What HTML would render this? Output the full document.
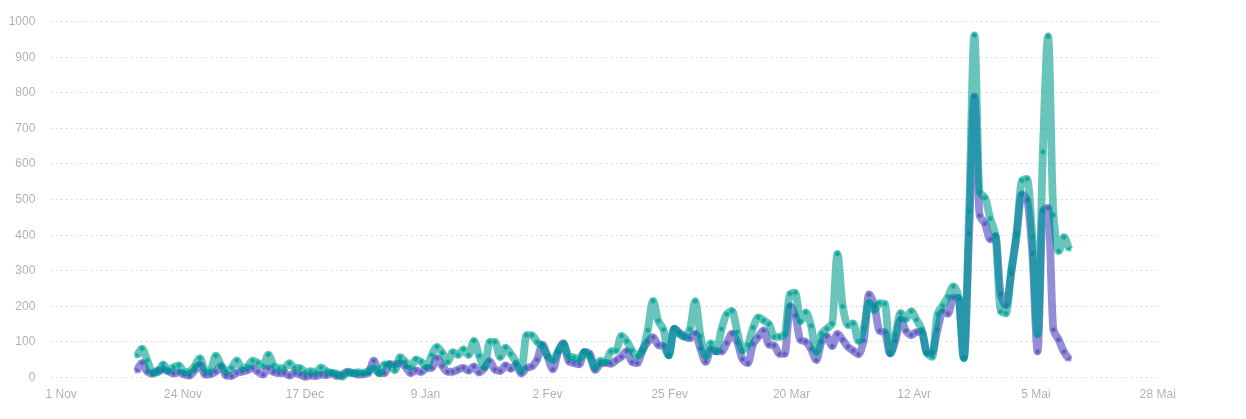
<!DOCTYPE html>
<html lang="fr">
<head>
<meta charset="utf-8">
<title>Graphique</title>
<style>
html,body{margin:0;padding:0;background:#fff;}
body{width:1246px;height:419px;overflow:hidden;font-family:"Liberation Sans",Arial,Helvetica,sans-serif;}
svg{display:block;}
.grid line{stroke:rgba(0,0,0,0.14);stroke-width:1;stroke-dasharray:2 3;shape-rendering:auto;}
.lbl text{font-family:"Liberation Sans",Arial,Helvetica,sans-serif;font-size:12px;fill:rgba(0,0,0,0.32);}
.ylbl text{text-anchor:end;}
.xlbl text{text-anchor:middle;}
.line{fill:none;stroke-width:7.8;stroke-linejoin:round;stroke-linecap:butt;stroke-opacity:0.6;}
.pt{fill:none;stroke-width:5.6;stroke-linecap:round;stroke-opacity:0.3;}
.pt2{fill:none;stroke-width:3.6;stroke-linecap:round;stroke-opacity:0.55;}
.a{stroke:rgb(75,67,187);} .b{stroke:rgb(5,157,142);}
</style>
</head>
<body>
<svg width="1246" height="419" viewBox="0 0 1246 419">
<defs><filter id="gm" x="0" y="0" width="1246" height="419" filterUnits="userSpaceOnUse" color-interpolation-filters="sRGB"><feComponentTransfer><feFuncR type="table" tableValues="0 0.03 0.10 0.24 0.4 0.5 0.6 0.7 0.8 0.9 1"/></feComponentTransfer></filter></defs>
<g filter="url(#gm)"><rect x="0" y="0" width="1246" height="419" fill="#fff"/>
<g class="grid"><line x1="50.6" x2="1158.4" y1="377.50" y2="377.50"/><line x1="50.6" x2="1158.4" y1="341.50" y2="341.50"/><line x1="50.6" x2="1158.4" y1="306.50" y2="306.50"/><line x1="50.6" x2="1158.4" y1="270.50" y2="270.50"/><line x1="50.6" x2="1158.4" y1="235.50" y2="235.50"/><line x1="50.6" x2="1158.4" y1="199.50" y2="199.50"/><line x1="50.6" x2="1158.4" y1="163.50" y2="163.50"/><line x1="50.6" x2="1158.4" y1="128.50" y2="128.50"/><line x1="50.6" x2="1158.4" y1="92.50" y2="92.50"/><line x1="50.6" x2="1158.4" y1="57.50" y2="57.50"/><line x1="50.6" x2="1158.4" y1="21.50" y2="21.50"/></g>
<g class="lbl ylbl"><text x="35.4" y="380.90">0</text><text x="35.4" y="344.90">100</text><text x="35.4" y="309.90">200</text><text x="35.4" y="273.90">300</text><text x="35.4" y="238.90">400</text><text x="35.4" y="202.90">500</text><text x="35.4" y="166.90">600</text><text x="35.4" y="131.90">700</text><text x="35.4" y="95.90">800</text><text x="35.4" y="60.90">900</text><text x="35.4" y="24.90">1000</text></g>
<g class="lbl xlbl"><text x="61.20" y="397.90">1 Nov</text><text x="183.04" y="397.90">24 Nov</text><text x="304.89" y="397.90">17 Dec</text><text x="425.43" y="397.90">9 Jan</text><text x="547.58" y="397.90">2 Fev</text><text x="669.72" y="397.90">25 Fev</text><text x="791.57" y="397.90">20 Mar</text><text x="914.11" y="397.90">12 Avr</text><text x="1035.96" y="397.90">5 Mai</text><text x="1157.80" y="397.90">28 Mai</text></g>
<g class="series a"><path class="line a" d="M136.70,371.04C138.46,368.31 140.21,362.85 141.97,362.85C143.72,362.85 145.48,370.61 147.24,371.75C148.99,372.90 150.75,373.89 152.51,373.89C154.26,373.89 156.02,370.73 157.77,370.33C159.53,369.93 161.29,369.62 163.04,369.62C164.80,369.62 166.55,370.75 168.31,371.40C170.07,372.05 171.82,373.53 173.58,373.53C175.34,373.53 177.09,372.47 178.85,372.47C180.60,372.47 182.36,374.13 184.12,374.60C185.87,375.08 187.63,375.67 189.38,375.67C191.14,375.67 192.90,372.17 194.65,370.33C196.41,368.49 198.17,364.63 199.92,364.63C201.68,364.63 203.43,374.60 205.19,374.60C206.95,374.60 208.70,374.45 210.46,374.25C212.22,374.04 213.97,372.86 215.73,371.75C217.48,370.65 219.24,366.77 221.00,366.77C222.75,366.77 224.51,375.44 226.26,375.67C228.02,375.90 229.78,376.03 231.53,376.03C233.29,376.03 235.05,373.36 236.80,372.82C238.56,372.29 240.31,372.16 242.07,371.75C243.83,371.35 245.58,370.90 247.34,370.33C249.09,369.76 250.85,368.19 252.61,368.19C254.36,368.19 256.12,370.70 257.88,371.75C259.63,372.81 261.39,374.60 263.14,374.60C264.90,374.60 266.66,368.19 268.41,368.19C270.17,368.19 271.92,371.55 273.68,372.11C275.44,372.67 277.19,373.18 278.95,373.18C280.71,373.18 282.46,373.18 284.22,373.18C285.97,373.18 287.73,375.67 289.49,375.67C291.24,375.67 293.00,373.18 294.75,373.18C296.51,373.18 298.27,374.03 300.02,374.60C301.78,375.17 303.54,376.74 305.29,376.74C307.05,376.74 308.80,375.67 310.56,375.67C312.32,375.67 314.07,376.03 315.83,376.03C317.59,376.03 319.34,374.60 321.10,374.60C322.85,374.60 324.61,375.31 326.37,375.31C328.12,375.31 329.88,373.18 331.63,373.18C333.39,373.18 335.15,376.03 336.90,376.03C338.66,376.03 340.42,375.23 342.17,374.60C343.93,373.97 345.68,371.75 347.44,371.75C349.20,371.75 350.95,372.38 352.71,372.82C354.46,373.27 356.22,374.60 357.98,374.60C359.73,374.60 361.49,374.42 363.25,374.25C365.00,374.07 366.76,373.83 368.51,373.18C370.27,372.52 372.03,360.72 373.78,360.72C375.54,360.72 377.29,372.59 379.05,372.82C380.81,373.05 382.56,373.18 384.32,373.18C386.08,373.18 387.83,363.92 389.59,363.92C391.34,363.92 393.10,364.63 394.86,364.63C396.61,364.63 398.37,362.85 400.12,362.85C401.88,362.85 403.64,365.15 405.39,366.77C407.15,368.39 408.91,373.18 410.66,373.18C412.42,373.18 414.17,370.33 415.93,370.33C417.69,370.33 419.44,372.11 421.20,372.11C422.96,372.11 424.71,368.41 426.47,368.19C428.22,367.98 429.98,368.07 431.74,367.84C433.49,367.61 435.25,358.23 437.00,358.23C438.76,358.23 440.52,363.86 442.27,366.06C444.03,368.26 445.79,371.75 447.54,371.75C449.30,371.75 451.05,371.75 452.81,371.75C454.57,371.75 456.32,370.27 458.08,369.62C459.83,368.97 461.59,367.84 463.35,367.84C465.10,367.84 466.86,370.69 468.62,370.69C470.37,370.69 472.13,366.41 473.88,366.41C475.64,366.41 477.40,372.47 479.15,372.47C480.91,372.47 482.66,369.97 484.42,368.19C486.18,366.41 487.93,361.07 489.69,361.07C491.45,361.07 493.20,368.80 494.96,369.62C496.71,370.43 498.47,371.04 500.23,371.04C501.98,371.04 503.74,365.35 505.50,365.35C507.25,365.35 509.01,368.91 510.76,368.91C512.52,368.91 514.28,364.63 516.03,364.63C517.79,364.63 519.54,373.53 521.30,373.53C523.06,373.53 524.81,369.08 526.57,368.19C528.33,367.30 530.08,367.35 531.84,366.41C533.59,365.47 535.35,362.75 537.11,359.65C538.86,356.55 540.62,344.70 542.37,344.70C544.13,344.70 545.89,352.71 547.64,356.80C549.40,360.90 551.16,369.26 552.91,369.26C554.67,369.26 556.42,355.64 558.18,351.82C559.94,347.99 561.69,343.27 563.45,343.27C565.20,343.27 566.96,360.35 568.72,361.43C570.47,362.51 572.23,362.76 573.99,363.21C575.74,363.65 577.50,364.28 579.25,364.28C581.01,364.28 582.77,351.82 584.52,351.82C586.28,351.82 588.03,352.53 589.79,353.60C591.55,354.67 593.30,369.97 595.06,369.97C596.82,369.97 598.57,364.53 600.33,363.92C602.08,363.32 603.84,362.85 605.60,362.85C607.35,362.85 609.11,363.92 610.87,363.92C612.62,363.92 614.38,361.55 616.13,360.36C617.89,359.18 619.65,358.26 621.40,356.80C623.16,355.34 624.91,351.11 626.67,351.11C628.43,351.11 630.18,361.49 631.94,362.14C633.70,362.79 635.45,363.21 637.21,363.21C638.96,363.21 640.72,353.81 642.48,350.39C644.23,346.98 645.99,343.85 647.74,341.85C649.50,339.85 651.26,337.22 653.01,337.22C654.77,337.22 656.53,344.43 658.28,345.05C660.04,345.68 661.79,345.48 663.55,346.12C665.31,346.76 667.06,355.38 668.82,355.38C670.57,355.38 672.33,328.68 674.09,328.68C675.84,328.68 677.60,331.29 679.36,332.59C681.11,333.90 682.87,335.69 684.62,336.51C686.38,337.33 688.14,338.29 689.89,338.29C691.65,338.29 693.40,333.66 695.16,333.66C696.92,333.66 698.67,343.95 700.43,348.61C702.19,353.28 703.94,361.79 705.70,361.79C707.45,361.79 709.21,349.33 710.97,349.33C712.72,349.33 714.48,351.46 716.24,351.46C717.99,351.46 719.75,351.46 721.50,351.46C723.26,351.46 725.02,345.88 726.77,342.92C728.53,339.96 730.28,333.66 732.04,333.66C733.80,333.66 735.55,338.41 737.31,342.21C739.07,346.00 740.82,357.17 742.58,359.29C744.33,361.42 746.09,363.21 747.85,363.21C749.60,363.21 751.36,347.45 753.11,343.99C754.87,340.52 756.63,339.11 758.38,336.87C760.14,334.62 761.90,330.46 763.65,330.46C765.41,330.46 767.16,344.25 768.92,344.70C770.68,345.15 772.43,344.97 774.19,345.41C775.94,345.85 777.70,353.95 779.46,353.95C781.21,353.95 782.97,353.95 784.73,353.95C786.48,353.95 788.24,306.25 789.99,306.25C791.75,306.25 793.51,311.02 795.26,315.51C797.02,319.99 798.77,338.96 800.53,340.07C802.29,341.18 804.04,340.90 805.80,341.85C807.56,342.80 809.31,346.08 811.07,348.97C812.82,351.86 814.58,360.01 816.34,360.01C818.09,360.01 819.85,344.60 821.61,341.85C823.36,339.10 825.12,336.51 826.87,336.51C828.63,336.51 830.39,346.12 832.14,346.12C833.90,346.12 835.65,334.02 837.41,334.02C839.17,334.02 840.92,337.60 842.68,339.71C844.44,341.82 846.19,345.15 847.95,346.83C849.70,348.52 851.46,349.51 853.22,350.75C854.97,351.99 856.73,354.31 858.48,354.31C860.24,354.31 862.00,347.53 863.75,340.43C865.51,333.32 867.27,294.50 869.02,294.50C870.78,294.50 872.53,300.42 874.29,305.54C876.05,310.66 877.80,329.92 879.56,330.81C881.31,331.71 883.07,331.35 884.83,332.24C886.58,333.13 888.34,353.60 890.10,353.60C891.85,353.60 893.61,346.12 895.36,340.78C897.12,335.44 898.88,319.42 900.63,319.42C902.39,319.42 904.14,328.74 905.90,330.81C907.66,332.89 909.41,335.09 911.17,335.09C912.93,335.09 914.68,332.45 916.44,332.24C918.19,332.03 919.95,331.88 921.71,331.88C923.46,331.88 925.22,352.89 926.98,352.89C928.73,352.89 930.49,352.63 932.24,352.17C934.00,351.71 935.76,336.44 937.51,329.75C939.27,323.06 941.02,311.59 942.78,311.59C944.54,311.59 946.29,313.73 948.05,313.73C949.81,313.73 951.56,297.71 953.32,297.71C955.07,297.71 956.83,297.95 958.59,298.42C960.34,298.89 962.10,357.87 963.85,357.87C965.61,357.87 967.37,277.07 969.12,233.63C970.88,190.18 972.64,96.57 974.39,96.57C976.15,96.57 977.90,210.36 979.66,215.47C981.42,220.58 983.17,220.07 984.93,223.66C986.68,227.24 988.44,239.32 990.20,239.32C991.95,239.32 993.71,236.12 995.47,236.12C997.22,236.12 998.98,287.45 1000.73,293.79C1002.49,300.13 1004.25,305.18 1006.00,305.18C1007.76,305.18 1009.51,285.31 1011.27,273.50C1013.03,261.68 1014.78,246.44 1016.54,233.27C1018.30,220.10 1020.05,194.47 1021.81,194.47C1023.56,194.47 1025.32,196.73 1027.08,200.16C1028.83,203.59 1030.59,230.53 1032.35,253.56C1034.10,276.60 1035.86,351.46 1037.61,351.46C1039.37,351.46 1041.13,212.70 1042.88,210.84C1044.64,208.98 1046.39,207.99 1048.15,207.99C1049.91,207.99 1051.66,323.60 1053.42,329.75C1055.18,335.89 1056.93,336.07 1058.69,339.71C1060.44,343.36 1062.20,348.74 1063.96,351.82C1065.71,354.90 1067.47,356.80 1069.22,359.29"/>
<path class="pt a" d="M136.70,371.04h0.01M141.97,362.85h0.01M147.24,371.75h0.01M152.51,373.89h0.01M157.77,370.33h0.01M163.04,369.62h0.01M168.31,371.40h0.01M173.58,373.53h0.01M178.85,372.47h0.01M184.12,374.60h0.01M189.38,375.67h0.01M194.65,370.33h0.01M199.92,364.63h0.01M205.19,374.60h0.01M210.46,374.25h0.01M215.73,371.75h0.01M221.00,366.77h0.01M226.26,375.67h0.01M231.53,376.03h0.01M236.80,372.82h0.01M242.07,371.75h0.01M247.34,370.33h0.01M252.61,368.19h0.01M257.88,371.75h0.01M263.14,374.60h0.01M268.41,368.19h0.01M273.68,372.11h0.01M278.95,373.18h0.01M284.22,373.18h0.01M289.49,375.67h0.01M294.75,373.18h0.01M300.02,374.60h0.01M305.29,376.74h0.01M310.56,375.67h0.01M315.83,376.03h0.01M321.10,374.60h0.01M326.37,375.31h0.01M331.63,373.18h0.01M336.90,376.03h0.01M342.17,374.60h0.01M347.44,371.75h0.01M352.71,372.82h0.01M357.98,374.60h0.01M363.25,374.25h0.01M368.51,373.18h0.01M373.78,360.72h0.01M379.05,372.82h0.01M384.32,373.18h0.01M389.59,363.92h0.01M394.86,364.63h0.01M400.12,362.85h0.01M405.39,366.77h0.01M410.66,373.18h0.01M415.93,370.33h0.01M421.20,372.11h0.01M426.47,368.19h0.01M431.74,367.84h0.01M437.00,358.23h0.01M442.27,366.06h0.01M447.54,371.75h0.01M452.81,371.75h0.01M458.08,369.62h0.01M463.35,367.84h0.01M468.62,370.69h0.01M473.88,366.41h0.01M479.15,372.47h0.01M484.42,368.19h0.01M489.69,361.07h0.01M494.96,369.62h0.01M500.23,371.04h0.01M505.50,365.35h0.01M510.76,368.91h0.01M516.03,364.63h0.01M521.30,373.53h0.01M526.57,368.19h0.01M531.84,366.41h0.01M537.11,359.65h0.01M542.37,344.70h0.01M547.64,356.80h0.01M552.91,369.26h0.01M558.18,351.82h0.01M563.45,343.27h0.01M568.72,361.43h0.01M573.99,363.21h0.01M579.25,364.28h0.01M584.52,351.82h0.01M589.79,353.60h0.01M595.06,369.97h0.01M600.33,363.92h0.01M605.60,362.85h0.01M610.87,363.92h0.01M616.13,360.36h0.01M621.40,356.80h0.01M626.67,351.11h0.01M631.94,362.14h0.01M637.21,363.21h0.01M642.48,350.39h0.01M647.74,341.85h0.01M653.01,337.22h0.01M658.28,345.05h0.01M663.55,346.12h0.01M668.82,355.38h0.01M674.09,328.68h0.01M679.36,332.59h0.01M684.62,336.51h0.01M689.89,338.29h0.01M695.16,333.66h0.01M700.43,348.61h0.01M705.70,361.79h0.01M710.97,349.33h0.01M716.24,351.46h0.01M721.50,351.46h0.01M726.77,342.92h0.01M732.04,333.66h0.01M737.31,342.21h0.01M742.58,359.29h0.01M747.85,363.21h0.01M753.11,343.99h0.01M758.38,336.87h0.01M763.65,330.46h0.01M768.92,344.70h0.01M774.19,345.41h0.01M779.46,353.95h0.01M784.73,353.95h0.01M789.99,306.25h0.01M795.26,315.51h0.01M800.53,340.07h0.01M805.80,341.85h0.01M811.07,348.97h0.01M816.34,360.01h0.01M821.61,341.85h0.01M826.87,336.51h0.01M832.14,346.12h0.01M837.41,334.02h0.01M842.68,339.71h0.01M847.95,346.83h0.01M853.22,350.75h0.01M858.48,354.31h0.01M863.75,340.43h0.01M869.02,294.50h0.01M874.29,305.54h0.01M879.56,330.81h0.01M884.83,332.24h0.01M890.10,353.60h0.01M895.36,340.78h0.01M900.63,319.42h0.01M905.90,330.81h0.01M911.17,335.09h0.01M916.44,332.24h0.01M921.71,331.88h0.01M926.98,352.89h0.01M932.24,352.17h0.01M937.51,329.75h0.01M942.78,311.59h0.01M948.05,313.73h0.01M953.32,297.71h0.01M958.59,298.42h0.01M963.85,357.87h0.01M969.12,233.63h0.01M974.39,96.57h0.01M979.66,215.47h0.01M984.93,223.66h0.01M990.20,239.32h0.01M995.47,236.12h0.01M1000.73,293.79h0.01M1006.00,305.18h0.01M1011.27,273.50h0.01M1016.54,233.27h0.01M1021.81,194.47h0.01M1027.08,200.16h0.01M1032.35,253.56h0.01M1037.61,351.46h0.01M1042.88,210.84h0.01M1048.15,207.99h0.01M1053.42,329.75h0.01M1058.69,339.71h0.01M1063.96,351.82h0.01M1069.22,359.29h0.01"/>
<path class="pt2 a" d="M136.70,371.04h0.01M141.97,362.85h0.01M147.24,371.75h0.01M152.51,373.89h0.01M157.77,370.33h0.01M163.04,369.62h0.01M168.31,371.40h0.01M173.58,373.53h0.01M178.85,372.47h0.01M184.12,374.60h0.01M189.38,375.67h0.01M194.65,370.33h0.01M199.92,364.63h0.01M205.19,374.60h0.01M210.46,374.25h0.01M215.73,371.75h0.01M221.00,366.77h0.01M226.26,375.67h0.01M231.53,376.03h0.01M236.80,372.82h0.01M242.07,371.75h0.01M247.34,370.33h0.01M252.61,368.19h0.01M257.88,371.75h0.01M263.14,374.60h0.01M268.41,368.19h0.01M273.68,372.11h0.01M278.95,373.18h0.01M284.22,373.18h0.01M289.49,375.67h0.01M294.75,373.18h0.01M300.02,374.60h0.01M305.29,376.74h0.01M310.56,375.67h0.01M315.83,376.03h0.01M321.10,374.60h0.01M326.37,375.31h0.01M331.63,373.18h0.01M336.90,376.03h0.01M342.17,374.60h0.01M347.44,371.75h0.01M352.71,372.82h0.01M357.98,374.60h0.01M363.25,374.25h0.01M368.51,373.18h0.01M373.78,360.72h0.01M379.05,372.82h0.01M384.32,373.18h0.01M389.59,363.92h0.01M394.86,364.63h0.01M400.12,362.85h0.01M405.39,366.77h0.01M410.66,373.18h0.01M415.93,370.33h0.01M421.20,372.11h0.01M426.47,368.19h0.01M431.74,367.84h0.01M437.00,358.23h0.01M442.27,366.06h0.01M447.54,371.75h0.01M452.81,371.75h0.01M458.08,369.62h0.01M463.35,367.84h0.01M468.62,370.69h0.01M473.88,366.41h0.01M479.15,372.47h0.01M484.42,368.19h0.01M489.69,361.07h0.01M494.96,369.62h0.01M500.23,371.04h0.01M505.50,365.35h0.01M510.76,368.91h0.01M516.03,364.63h0.01M521.30,373.53h0.01M526.57,368.19h0.01M531.84,366.41h0.01M537.11,359.65h0.01M542.37,344.70h0.01M547.64,356.80h0.01M552.91,369.26h0.01M558.18,351.82h0.01M563.45,343.27h0.01M568.72,361.43h0.01M573.99,363.21h0.01M579.25,364.28h0.01M584.52,351.82h0.01M589.79,353.60h0.01M595.06,369.97h0.01M600.33,363.92h0.01M605.60,362.85h0.01M610.87,363.92h0.01M616.13,360.36h0.01M621.40,356.80h0.01M626.67,351.11h0.01M631.94,362.14h0.01M637.21,363.21h0.01M642.48,350.39h0.01M647.74,341.85h0.01M653.01,337.22h0.01M658.28,345.05h0.01M663.55,346.12h0.01M668.82,355.38h0.01M674.09,328.68h0.01M679.36,332.59h0.01M684.62,336.51h0.01M689.89,338.29h0.01M695.16,333.66h0.01M700.43,348.61h0.01M705.70,361.79h0.01M710.97,349.33h0.01M716.24,351.46h0.01M721.50,351.46h0.01M726.77,342.92h0.01M732.04,333.66h0.01M737.31,342.21h0.01M742.58,359.29h0.01M747.85,363.21h0.01M753.11,343.99h0.01M758.38,336.87h0.01M763.65,330.46h0.01M768.92,344.70h0.01M774.19,345.41h0.01M779.46,353.95h0.01M784.73,353.95h0.01M789.99,306.25h0.01M795.26,315.51h0.01M800.53,340.07h0.01M805.80,341.85h0.01M811.07,348.97h0.01M816.34,360.01h0.01M821.61,341.85h0.01M826.87,336.51h0.01M832.14,346.12h0.01M837.41,334.02h0.01M842.68,339.71h0.01M847.95,346.83h0.01M853.22,350.75h0.01M858.48,354.31h0.01M863.75,340.43h0.01M869.02,294.50h0.01M874.29,305.54h0.01M879.56,330.81h0.01M884.83,332.24h0.01M890.10,353.60h0.01M895.36,340.78h0.01M900.63,319.42h0.01M905.90,330.81h0.01M911.17,335.09h0.01M916.44,332.24h0.01M921.71,331.88h0.01M926.98,352.89h0.01M932.24,352.17h0.01M937.51,329.75h0.01M942.78,311.59h0.01M948.05,313.73h0.01M953.32,297.71h0.01M958.59,298.42h0.01M963.85,357.87h0.01M969.12,233.63h0.01M974.39,96.57h0.01M979.66,215.47h0.01M984.93,223.66h0.01M990.20,239.32h0.01M995.47,236.12h0.01M1000.73,293.79h0.01M1006.00,305.18h0.01M1011.27,273.50h0.01M1016.54,233.27h0.01M1021.81,194.47h0.01M1027.08,200.16h0.01M1032.35,253.56h0.01M1037.61,351.46h0.01M1042.88,210.84h0.01M1048.15,207.99h0.01M1053.42,329.75h0.01M1058.69,339.71h0.01M1063.96,351.82h0.01M1069.22,359.29h0.01"/></g>
<g class="series b"><path class="line b" d="M136.70,356.09C138.46,353.60 140.21,348.61 141.97,348.61C143.72,348.61 145.48,356.45 147.24,360.36C148.99,364.28 150.75,371.88 152.51,372.11C154.26,372.34 156.02,372.47 157.77,372.47C159.53,372.47 161.29,364.28 163.04,364.28C164.80,364.28 166.55,370.33 168.31,370.33C170.07,370.33 171.82,367.89 173.58,367.13C175.34,366.36 177.09,365.35 178.85,365.35C180.60,365.35 182.36,371.75 184.12,371.75C185.87,371.75 187.63,371.75 189.38,371.75C191.14,371.75 192.90,368.26 194.65,366.06C196.41,363.86 198.17,358.23 199.92,358.23C201.68,358.23 203.43,370.33 205.19,370.33C206.95,370.33 208.70,370.33 210.46,370.33C212.22,370.33 213.97,355.73 215.73,355.73C217.48,355.73 219.24,362.00 221.00,364.63C222.75,367.27 224.51,371.75 226.26,371.75C228.02,371.75 229.78,369.55 231.53,367.84C233.29,366.12 235.05,360.36 236.80,360.36C238.56,360.36 240.31,368.19 242.07,368.19C243.83,368.19 245.58,367.32 247.34,366.41C249.09,365.51 250.85,360.72 252.61,360.72C254.36,360.72 256.12,362.04 257.88,362.85C259.63,363.67 261.39,365.70 263.14,365.70C264.90,365.70 266.66,354.67 268.41,354.67C270.17,354.67 271.92,363.85 273.68,365.35C275.44,366.84 277.19,368.19 278.95,368.19C280.71,368.19 282.46,368.06 284.22,367.84C285.97,367.62 287.73,363.21 289.49,363.21C291.24,363.21 293.00,367.84 294.75,367.84C296.51,367.84 298.27,367.84 300.02,367.84C301.78,367.84 303.54,372.11 305.29,372.11C307.05,372.11 308.80,371.04 310.56,371.04C312.32,371.04 314.07,372.11 315.83,372.11C317.59,372.11 319.34,367.48 321.10,367.48C322.85,367.48 324.61,370.25 326.37,371.04C328.12,371.83 329.88,372.48 331.63,372.82C333.39,373.16 335.15,373.15 336.90,373.53C338.66,373.92 340.42,376.74 342.17,376.74C343.93,376.74 345.68,372.82 347.44,372.82C349.20,372.82 350.95,373.18 352.71,373.18C354.46,373.18 356.22,372.11 357.98,372.11C359.73,372.11 361.49,372.82 363.25,372.82C365.00,372.82 366.76,371.45 368.51,370.69C370.27,369.92 372.03,368.19 373.78,368.19C375.54,368.19 377.29,373.18 379.05,373.18C380.81,373.18 382.56,364.28 384.32,364.28C386.08,364.28 387.83,364.57 389.59,364.99C391.34,365.41 393.10,370.33 394.86,370.33C396.61,370.33 398.37,357.16 400.12,357.16C401.88,357.16 403.64,360.13 405.39,361.79C407.15,363.44 408.91,367.13 410.66,367.13C412.42,367.13 414.17,359.29 415.93,359.29C417.69,359.29 419.44,360.68 421.20,361.79C422.96,362.89 424.71,366.77 426.47,366.77C428.22,366.77 429.98,358.24 431.74,355.02C433.49,351.81 435.25,346.83 437.00,346.83C438.76,346.83 440.52,350.48 442.27,352.89C444.03,355.29 445.79,361.79 447.54,361.79C449.30,361.79 451.05,352.17 452.81,352.17C454.57,352.17 456.32,355.02 458.08,355.02C459.83,355.02 461.59,349.33 463.35,349.33C465.10,349.33 466.86,355.02 468.62,355.02C470.37,355.02 472.13,340.78 473.88,340.78C475.64,340.78 477.40,351.42 479.15,355.73C480.91,360.04 482.66,367.13 484.42,367.13C486.18,367.13 487.93,341.85 489.69,341.85C491.45,341.85 493.20,341.85 494.96,341.85C496.71,341.85 498.47,357.16 500.23,357.16C501.98,357.16 503.74,347.55 505.50,347.55C507.25,347.55 509.01,351.60 510.76,353.95C512.52,356.30 514.28,359.01 516.03,361.79C517.79,364.56 519.54,370.69 521.30,370.69C523.06,370.69 524.81,335.09 526.57,335.09C528.33,335.09 530.08,335.09 531.84,335.09C533.59,335.09 535.35,340.02 537.11,341.85C538.86,343.68 540.62,344.40 542.37,346.48C544.13,348.56 545.89,354.24 547.64,356.09C549.40,357.94 551.16,360.01 552.91,360.01C554.67,360.01 556.42,353.67 558.18,351.11C559.94,348.54 561.69,344.34 563.45,344.34C565.20,344.34 566.96,355.24 568.72,356.09C570.47,356.94 572.23,357.04 573.99,357.51C575.74,357.99 577.50,358.94 579.25,358.94C581.01,358.94 582.77,352.17 584.52,352.17C586.28,352.17 588.03,354.67 589.79,356.80C591.55,358.93 593.30,367.13 595.06,367.13C596.82,367.13 598.57,360.72 600.33,360.72C602.08,360.72 603.84,362.14 605.60,362.14C607.35,362.14 609.11,352.11 610.87,351.46C612.62,350.81 614.38,351.06 616.13,350.39C617.89,349.73 619.65,335.80 621.40,335.80C623.16,335.80 624.91,338.88 626.67,341.14C628.43,343.40 630.18,348.04 631.94,350.39C633.70,352.74 635.45,356.09 637.21,356.09C638.96,356.09 640.72,353.36 642.48,350.39C644.23,347.43 645.99,338.08 647.74,330.10C649.50,322.12 651.26,300.91 653.01,300.91C654.77,300.91 656.53,316.74 658.28,320.85C660.04,324.95 661.79,325.34 663.55,329.75C665.31,334.15 667.06,355.38 668.82,355.38C670.57,355.38 672.33,328.68 674.09,328.68C675.84,328.68 677.60,333.22 679.36,334.37C681.11,335.53 682.87,336.87 684.62,336.87C686.38,336.87 688.14,333.11 689.89,329.03C691.65,324.96 693.40,301.27 695.16,301.27C696.92,301.27 698.67,327.28 700.43,335.80C702.19,344.32 703.94,356.09 705.70,356.09C707.45,356.09 709.21,343.27 710.97,343.27C712.72,343.27 714.48,351.46 716.24,351.46C717.99,351.46 719.75,335.01 721.50,329.03C723.26,323.05 725.02,315.84 726.77,314.08C728.53,312.32 730.28,310.88 732.04,310.88C733.80,310.88 735.55,325.32 737.31,331.88C739.07,338.44 740.82,350.39 742.58,350.39C744.33,350.39 746.09,347.55 747.85,344.70C749.60,341.85 751.36,331.90 753.11,327.61C754.87,323.32 756.63,317.29 758.38,317.29C760.14,317.29 761.90,319.37 763.65,320.49C765.41,321.61 767.16,322.19 768.92,324.05C770.68,325.91 772.43,336.87 774.19,336.87C775.94,336.87 777.70,336.87 779.46,336.87C781.21,336.87 782.97,335.79 784.73,334.02C786.48,332.24 788.24,294.48 789.99,293.79C791.75,293.10 793.51,292.72 795.26,292.72C797.02,292.72 798.77,321.20 800.53,321.20C802.29,321.20 804.04,312.30 805.80,312.30C807.56,312.30 809.31,319.87 811.07,325.83C812.82,331.79 814.58,352.17 816.34,352.17C818.09,352.17 819.85,336.28 821.61,333.66C823.36,331.04 825.12,330.34 826.87,328.68C828.63,327.02 830.39,326.80 832.14,323.69C833.90,320.59 835.65,253.92 837.41,253.92C839.17,253.92 840.92,297.00 842.68,306.25C844.44,315.50 846.19,325.12 847.95,325.12C849.70,325.12 851.46,323.34 853.22,323.34C854.97,323.34 856.73,341.14 858.48,341.14C860.24,341.14 862.00,333.77 863.75,327.97C865.51,322.17 867.27,302.33 869.02,302.33C870.78,302.33 872.53,310.17 874.29,310.17C876.05,310.17 877.80,303.05 879.56,303.05C881.31,303.05 883.07,303.29 884.83,303.76C886.58,304.23 888.34,352.89 890.10,352.89C891.85,352.89 893.61,341.66 895.36,335.09C897.12,328.52 898.88,313.01 900.63,313.01C902.39,313.01 904.14,319.07 905.90,319.07C907.66,319.07 909.41,311.23 911.17,311.23C912.93,311.23 914.68,316.76 916.44,319.78C918.19,322.79 919.95,324.84 921.71,329.39C923.46,333.94 925.22,350.65 926.98,352.89C928.73,355.12 930.49,356.80 932.24,356.80C934.00,356.80 935.76,318.83 937.51,314.08C939.27,309.34 941.02,308.44 942.78,305.54C944.54,302.63 946.29,299.82 948.05,296.64C949.81,293.45 951.56,286.31 953.32,286.31C955.07,286.31 956.83,290.74 958.59,296.64C960.34,302.53 962.10,358.23 963.85,358.23C965.61,358.23 967.37,264.25 969.12,210.84C970.88,157.43 972.64,35.33 974.39,35.33C976.15,35.33 977.90,188.89 979.66,192.33C981.42,195.77 983.17,194.83 984.93,197.67C986.68,200.51 988.44,212.54 990.20,218.67C991.95,224.81 993.71,226.06 995.47,235.05C997.22,244.04 998.98,310.43 1000.73,311.59C1002.49,312.75 1004.25,313.37 1006.00,313.37C1007.76,313.37 1009.51,282.15 1011.27,269.58C1013.03,257.01 1014.78,250.34 1016.54,236.47C1018.30,222.61 1020.05,181.73 1021.81,180.58C1023.56,179.43 1025.32,178.80 1027.08,178.80C1028.83,178.80 1030.59,212.28 1032.35,236.47C1034.10,260.67 1035.86,334.37 1037.61,334.37C1039.37,334.37 1041.13,198.88 1042.88,151.75C1044.64,104.62 1046.39,36.40 1048.15,36.40C1049.91,36.40 1051.66,195.16 1053.42,215.11C1055.18,235.07 1056.93,251.07 1058.69,251.07C1060.44,251.07 1062.20,237.19 1063.96,237.19C1065.71,237.19 1067.47,245.26 1069.22,249.29"/>
<path class="pt b" d="M136.70,356.09h0.01M141.97,348.61h0.01M147.24,360.36h0.01M152.51,372.11h0.01M157.77,372.47h0.01M163.04,364.28h0.01M168.31,370.33h0.01M173.58,367.13h0.01M178.85,365.35h0.01M184.12,371.75h0.01M189.38,371.75h0.01M194.65,366.06h0.01M199.92,358.23h0.01M205.19,370.33h0.01M210.46,370.33h0.01M215.73,355.73h0.01M221.00,364.63h0.01M226.26,371.75h0.01M231.53,367.84h0.01M236.80,360.36h0.01M242.07,368.19h0.01M247.34,366.41h0.01M252.61,360.72h0.01M257.88,362.85h0.01M263.14,365.70h0.01M268.41,354.67h0.01M273.68,365.35h0.01M278.95,368.19h0.01M284.22,367.84h0.01M289.49,363.21h0.01M294.75,367.84h0.01M300.02,367.84h0.01M305.29,372.11h0.01M310.56,371.04h0.01M315.83,372.11h0.01M321.10,367.48h0.01M326.37,371.04h0.01M331.63,372.82h0.01M336.90,373.53h0.01M342.17,376.74h0.01M347.44,372.82h0.01M352.71,373.18h0.01M357.98,372.11h0.01M363.25,372.82h0.01M368.51,370.69h0.01M373.78,368.19h0.01M379.05,373.18h0.01M384.32,364.28h0.01M389.59,364.99h0.01M394.86,370.33h0.01M400.12,357.16h0.01M405.39,361.79h0.01M410.66,367.13h0.01M415.93,359.29h0.01M421.20,361.79h0.01M426.47,366.77h0.01M431.74,355.02h0.01M437.00,346.83h0.01M442.27,352.89h0.01M447.54,361.79h0.01M452.81,352.17h0.01M458.08,355.02h0.01M463.35,349.33h0.01M468.62,355.02h0.01M473.88,340.78h0.01M479.15,355.73h0.01M484.42,367.13h0.01M489.69,341.85h0.01M494.96,341.85h0.01M500.23,357.16h0.01M505.50,347.55h0.01M510.76,353.95h0.01M516.03,361.79h0.01M521.30,370.69h0.01M526.57,335.09h0.01M531.84,335.09h0.01M537.11,341.85h0.01M542.37,346.48h0.01M547.64,356.09h0.01M552.91,360.01h0.01M558.18,351.11h0.01M563.45,344.34h0.01M568.72,356.09h0.01M573.99,357.51h0.01M579.25,358.94h0.01M584.52,352.17h0.01M589.79,356.80h0.01M595.06,367.13h0.01M600.33,360.72h0.01M605.60,362.14h0.01M610.87,351.46h0.01M616.13,350.39h0.01M621.40,335.80h0.01M626.67,341.14h0.01M631.94,350.39h0.01M637.21,356.09h0.01M642.48,350.39h0.01M647.74,330.10h0.01M653.01,300.91h0.01M658.28,320.85h0.01M663.55,329.75h0.01M668.82,355.38h0.01M674.09,328.68h0.01M679.36,334.37h0.01M684.62,336.87h0.01M689.89,329.03h0.01M695.16,301.27h0.01M700.43,335.80h0.01M705.70,356.09h0.01M710.97,343.27h0.01M716.24,351.46h0.01M721.50,329.03h0.01M726.77,314.08h0.01M732.04,310.88h0.01M737.31,331.88h0.01M742.58,350.39h0.01M747.85,344.70h0.01M753.11,327.61h0.01M758.38,317.29h0.01M763.65,320.49h0.01M768.92,324.05h0.01M774.19,336.87h0.01M779.46,336.87h0.01M784.73,334.02h0.01M789.99,293.79h0.01M795.26,292.72h0.01M800.53,321.20h0.01M805.80,312.30h0.01M811.07,325.83h0.01M816.34,352.17h0.01M821.61,333.66h0.01M826.87,328.68h0.01M832.14,323.69h0.01M837.41,253.92h0.01M842.68,306.25h0.01M847.95,325.12h0.01M853.22,323.34h0.01M858.48,341.14h0.01M863.75,327.97h0.01M869.02,302.33h0.01M874.29,310.17h0.01M879.56,303.05h0.01M884.83,303.76h0.01M890.10,352.89h0.01M895.36,335.09h0.01M900.63,313.01h0.01M905.90,319.07h0.01M911.17,311.23h0.01M916.44,319.78h0.01M921.71,329.39h0.01M926.98,352.89h0.01M932.24,356.80h0.01M937.51,314.08h0.01M942.78,305.54h0.01M948.05,296.64h0.01M953.32,286.31h0.01M958.59,296.64h0.01M963.85,358.23h0.01M969.12,210.84h0.01M974.39,35.33h0.01M979.66,192.33h0.01M984.93,197.67h0.01M990.20,218.67h0.01M995.47,235.05h0.01M1000.73,311.59h0.01M1006.00,313.37h0.01M1011.27,269.58h0.01M1016.54,236.47h0.01M1021.81,180.58h0.01M1027.08,178.80h0.01M1032.35,236.47h0.01M1037.61,334.37h0.01M1042.88,151.75h0.01M1048.15,36.40h0.01M1053.42,215.11h0.01M1058.69,251.07h0.01M1063.96,237.19h0.01M1069.22,249.29h0.01"/>
<path class="pt2 b" d="M136.70,356.09h0.01M141.97,348.61h0.01M147.24,360.36h0.01M152.51,372.11h0.01M157.77,372.47h0.01M163.04,364.28h0.01M168.31,370.33h0.01M173.58,367.13h0.01M178.85,365.35h0.01M184.12,371.75h0.01M189.38,371.75h0.01M194.65,366.06h0.01M199.92,358.23h0.01M205.19,370.33h0.01M210.46,370.33h0.01M215.73,355.73h0.01M221.00,364.63h0.01M226.26,371.75h0.01M231.53,367.84h0.01M236.80,360.36h0.01M242.07,368.19h0.01M247.34,366.41h0.01M252.61,360.72h0.01M257.88,362.85h0.01M263.14,365.70h0.01M268.41,354.67h0.01M273.68,365.35h0.01M278.95,368.19h0.01M284.22,367.84h0.01M289.49,363.21h0.01M294.75,367.84h0.01M300.02,367.84h0.01M305.29,372.11h0.01M310.56,371.04h0.01M315.83,372.11h0.01M321.10,367.48h0.01M326.37,371.04h0.01M331.63,372.82h0.01M336.90,373.53h0.01M342.17,376.74h0.01M347.44,372.82h0.01M352.71,373.18h0.01M357.98,372.11h0.01M363.25,372.82h0.01M368.51,370.69h0.01M373.78,368.19h0.01M379.05,373.18h0.01M384.32,364.28h0.01M389.59,364.99h0.01M394.86,370.33h0.01M400.12,357.16h0.01M405.39,361.79h0.01M410.66,367.13h0.01M415.93,359.29h0.01M421.20,361.79h0.01M426.47,366.77h0.01M431.74,355.02h0.01M437.00,346.83h0.01M442.27,352.89h0.01M447.54,361.79h0.01M452.81,352.17h0.01M458.08,355.02h0.01M463.35,349.33h0.01M468.62,355.02h0.01M473.88,340.78h0.01M479.15,355.73h0.01M484.42,367.13h0.01M489.69,341.85h0.01M494.96,341.85h0.01M500.23,357.16h0.01M505.50,347.55h0.01M510.76,353.95h0.01M516.03,361.79h0.01M521.30,370.69h0.01M526.57,335.09h0.01M531.84,335.09h0.01M537.11,341.85h0.01M542.37,346.48h0.01M547.64,356.09h0.01M552.91,360.01h0.01M558.18,351.11h0.01M563.45,344.34h0.01M568.72,356.09h0.01M573.99,357.51h0.01M579.25,358.94h0.01M584.52,352.17h0.01M589.79,356.80h0.01M595.06,367.13h0.01M600.33,360.72h0.01M605.60,362.14h0.01M610.87,351.46h0.01M616.13,350.39h0.01M621.40,335.80h0.01M626.67,341.14h0.01M631.94,350.39h0.01M637.21,356.09h0.01M642.48,350.39h0.01M647.74,330.10h0.01M653.01,300.91h0.01M658.28,320.85h0.01M663.55,329.75h0.01M668.82,355.38h0.01M674.09,328.68h0.01M679.36,334.37h0.01M684.62,336.87h0.01M689.89,329.03h0.01M695.16,301.27h0.01M700.43,335.80h0.01M705.70,356.09h0.01M710.97,343.27h0.01M716.24,351.46h0.01M721.50,329.03h0.01M726.77,314.08h0.01M732.04,310.88h0.01M737.31,331.88h0.01M742.58,350.39h0.01M747.85,344.70h0.01M753.11,327.61h0.01M758.38,317.29h0.01M763.65,320.49h0.01M768.92,324.05h0.01M774.19,336.87h0.01M779.46,336.87h0.01M784.73,334.02h0.01M789.99,293.79h0.01M795.26,292.72h0.01M800.53,321.20h0.01M805.80,312.30h0.01M811.07,325.83h0.01M816.34,352.17h0.01M821.61,333.66h0.01M826.87,328.68h0.01M832.14,323.69h0.01M837.41,253.92h0.01M842.68,306.25h0.01M847.95,325.12h0.01M853.22,323.34h0.01M858.48,341.14h0.01M863.75,327.97h0.01M869.02,302.33h0.01M874.29,310.17h0.01M879.56,303.05h0.01M884.83,303.76h0.01M890.10,352.89h0.01M895.36,335.09h0.01M900.63,313.01h0.01M905.90,319.07h0.01M911.17,311.23h0.01M916.44,319.78h0.01M921.71,329.39h0.01M926.98,352.89h0.01M932.24,356.80h0.01M937.51,314.08h0.01M942.78,305.54h0.01M948.05,296.64h0.01M953.32,286.31h0.01M958.59,296.64h0.01M963.85,358.23h0.01M969.12,210.84h0.01M974.39,35.33h0.01M979.66,192.33h0.01M984.93,197.67h0.01M990.20,218.67h0.01M995.47,235.05h0.01M1000.73,311.59h0.01M1006.00,313.37h0.01M1011.27,269.58h0.01M1016.54,236.47h0.01M1021.81,180.58h0.01M1027.08,178.80h0.01M1032.35,236.47h0.01M1037.61,334.37h0.01M1042.88,151.75h0.01M1048.15,36.40h0.01M1053.42,215.11h0.01M1058.69,251.07h0.01M1063.96,237.19h0.01M1069.22,249.29h0.01"/></g>
</g>
</svg>
</body>
</html>
